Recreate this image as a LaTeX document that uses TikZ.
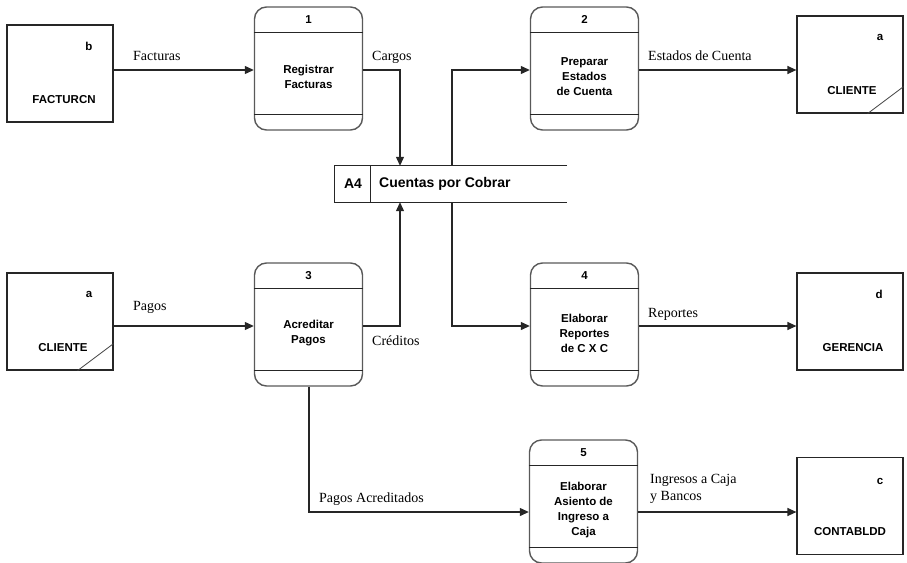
\documentclass[tikz,border=0pt]{standalone}
\usepackage{fontspec}
\setmainfont{Liberation Serif}
\setsansfont{Liberation Sans}
\usetikzlibrary{arrows.meta}
\tikzset{
  proc/.style={draw=black!65, line width=1.4pt, rounded corners=12pt, minimum width=108pt, minimum height=123pt, inner sep=0pt},
  procline/.style={draw=black!85, line width=1.1pt},
  ent/.style={draw=black!85, line width=1.2pt, minimum width=106pt, minimum height=97pt, inner sep=0pt},
  storeline/.style={draw=black!85, line width=1.2pt},
  flow/.style={draw=black!85, line width=1.2pt, -{Triangle[length=9pt,width=8pt]}},
  flab/.style={font=\fontsize{14}{17}\selectfont, anchor=base west, inner sep=0pt},
  ptxt/.style={font=\sffamily\bfseries\fontsize{11.5}{15}\selectfont, align=center, inner sep=0pt},
  etxt/.style={font=\sffamily\bfseries\fontsize{11.5}{14}\selectfont, inner sep=0pt},
  stxt/.style={font=\sffamily\bfseries\fontsize{14}{16}\selectfont, inner sep=0pt},
}
% #1 name, #2 center x, #3 top y, #4 number, #5 text
\newcommand\dfdproc[5]{%
  \node[proc] (#1) at (#2,#3+61.5) {};
  \draw[procline] ([yshift=-26.5pt]#1.north west) -- ([yshift=-26.5pt]#1.north east);
  \draw[procline] ([yshift=16pt]#1.south west) -- ([yshift=16pt]#1.south east);
  \node[ptxt] (#1n) at ([yshift=-13.5pt]#1.north) {#4};
  \node[ptxt] (#1t) at (#2,#3+70) {#5};
}
\begin{document}
\begin{tikzpicture}[x=1pt,y=-1pt]
\useasboundingbox (0,0) rectangle (907,562);

% processes
\dfdproc{pa}{308.5}{7}{1}{Registrar\\Facturas}
\dfdproc{pb}{584.5}{7}{2}{Preparar\\Estados\\de Cuenta}
\dfdproc{pc}{308.5}{263}{3}{Acreditar\\Pagos}
\dfdproc{pd}{584.5}{263}{4}{Elaborar\\Reportes\\de C X C}
\dfdproc{pe}{583.5}{440}{5}{Elaborar\\Asiento de\\Ingreso a\\Caja}

% external entities
\node[ent] (fac) at (60,73.5) {};
\node[etxt] (facl) at (89,46) {b};
\node[etxt] (facn) at (64,100) {FACTURCN};

\node[ent] (clia) at (850,64.5) {};
\node[etxt] (clial) at (880,37) {a};
\node[etxt] (clian) at (852,91) {CLIENTE};
\draw[line width=0.8pt, black!75] ([xshift=-36pt]clia.south east) -- ([yshift=27pt]clia.south east);

\node[ent] (clib) at (60,321.5) {};
\node[etxt] (clibl) at (89,294) {a};
\node[etxt] (clibn) at (63,348) {CLIENTE};
\draw[line width=0.8pt, black!75] ([xshift=-36pt]clib.south east) -- ([yshift=27pt]clib.south east);

\node[ent] (ger) at (850,321.5) {};
\node[etxt] (gerl) at (879,294) {d};
\node[etxt] (gern) at (853,348) {GERENCIA};

\node[ent] (con) at (850,506) {};
\node[etxt] (conl) at (880,481) {c};
\node[etxt] (conn) at (850,532) {CONTABLDD};

% data store
\node[minimum width=232pt, minimum height=36pt, inner sep=0pt] (st) at (451,184) {};
\draw[storeline] (st.north east) -- (st.north west) -- (st.south west) -- (st.south east);
\draw[storeline] ([xshift=36pt]st.north west) -- ([xshift=36pt]st.south west);
\node[stxt] (sta) at (353,184) {A4};
\node[stxt, anchor=west] (stn) at (379,184) {Cuentas por Cobrar};

% flows
\draw[flow] (fac.east |- 0,70) -- (pa.west |- 0,70);
\node[flab] at (133,60) {Facturas};

\draw[flow] (pa.east |- 0,70) -| (st.north -| 400,0);
\node[flab] at (372,60) {Cargos};

\draw[flow] (st.north -| 452,0) |- (pb.west |- 0,70);
\draw[flow] (pb.east |- 0,70) -- (clia.west |- 0,70);
\node[flab] at (648,60) {Estados de Cuenta};

\draw[flow] (clib.east |- 0,326) -- (pc.west |- 0,326);
\node[flab] at (133,310) {Pagos};

\draw[flow] (pc.east |- 0,326) -| (st.south -| 400,0);
\node[flab] at (372,345) {Créditos};

\draw[flow] (st.south -| 452,0) |- (pd.west |- 0,326);
\draw[flow] (pd.east |- 0,326) -- (ger.west |- 0,326);
\node[flab] at (648,317) {Reportes};

\draw[flow] (pc.south -| 309,0) |- (pe.west |- 0,512);
\node[flab] at (319,502) {Pagos Acreditados};

\draw[flow] (pe.east |- 0,512) -- (con.west |- 0,512);
\node[flab] at (650,483) {Ingresos a Caja};
\node[flab] at (650,500) {y Bancos};
\end{tikzpicture}
\end{document}
